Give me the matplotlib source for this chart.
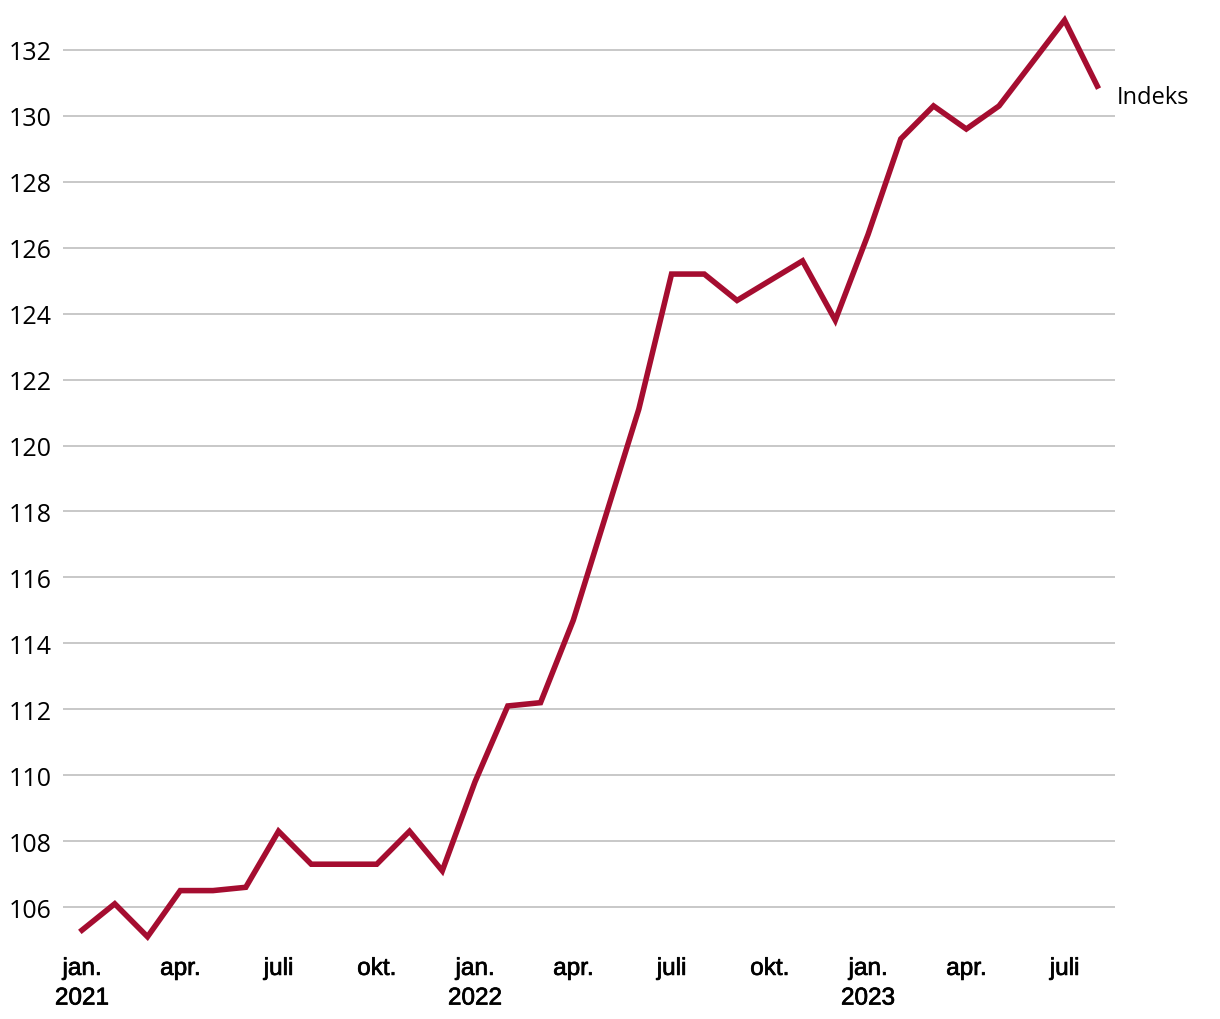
import matplotlib.pyplot as plt
import matplotlib.patheffects as pe

# Monthly index, jan. 2021 - aug. 2023
values = [105.3, 106.1, 105.1, 106.5, 106.5, 106.6, 108.3, 107.3, 107.3, 107.3, 108.3, 107.1,
          109.8, 112.1, 112.2, 114.7, 117.9, 121.1, 125.2, 125.2, 124.4, 125.0, 125.6, 123.8,
          126.4, 129.3, 130.3, 129.6, 130.3, 131.6, 132.9, 130.9]
tick_pos = [0, 3, 6, 9, 12, 15, 18, 21, 24, 27, 30]
tick_labels = ['jan.\n2021', 'apr.', 'juli', 'okt.', 'jan.\n2022', 'apr.', 'juli', 'okt.',
               'jan.\n2023', 'apr.', 'juli']
y_ticks = list(range(106, 133, 2))
series_label = 'Indeks'

fig = plt.figure(figsize=(12.2, 10.2), dpi=100)
ax = fig.add_axes([63 / 1220, 1 - 945 / 1020, (1115 - 63) / 1220, 935 / 1020])

x = list(range(len(values)))
ax.plot(x, values, color='#a50d30', linewidth=4.0, solid_joinstyle='miter', zorder=3)

ax.set_xlim(-0.58, 31.54)
ax.set_ylim(104.88, 133.24)
ax.set_yticks(y_ticks)
ax.set_yticklabels([str(v) for v in y_ticks], fontfamily='Open Sans', fontsize=18)
ax.set_xticks(tick_pos)
xl = ax.set_xticklabels(tick_labels, fontfamily='Liberation Sans', fontsize=17.5, linespacing=1.45)
for t in xl:
    t.set_path_effects([pe.withStroke(linewidth=0.5, foreground='black')])
ax.tick_params(axis='both', length=0)
ax.tick_params(axis='y', pad=8)
ax.tick_params(axis='x', pad=10)
ax.grid(axis='y', color='#bfbfbf', linewidth=1.2)
ax.set_axisbelow(True)
for s in ax.spines.values():
    s.set_visible(False)

ax.annotate(series_label, xy=(x[-1], values[-1]), xytext=(14, -8), textcoords='offset points',
            fontfamily='Open Sans', fontsize=17, va='center', ha='left', annotation_clip=False)

fig.savefig('out.png', dpi=100)
